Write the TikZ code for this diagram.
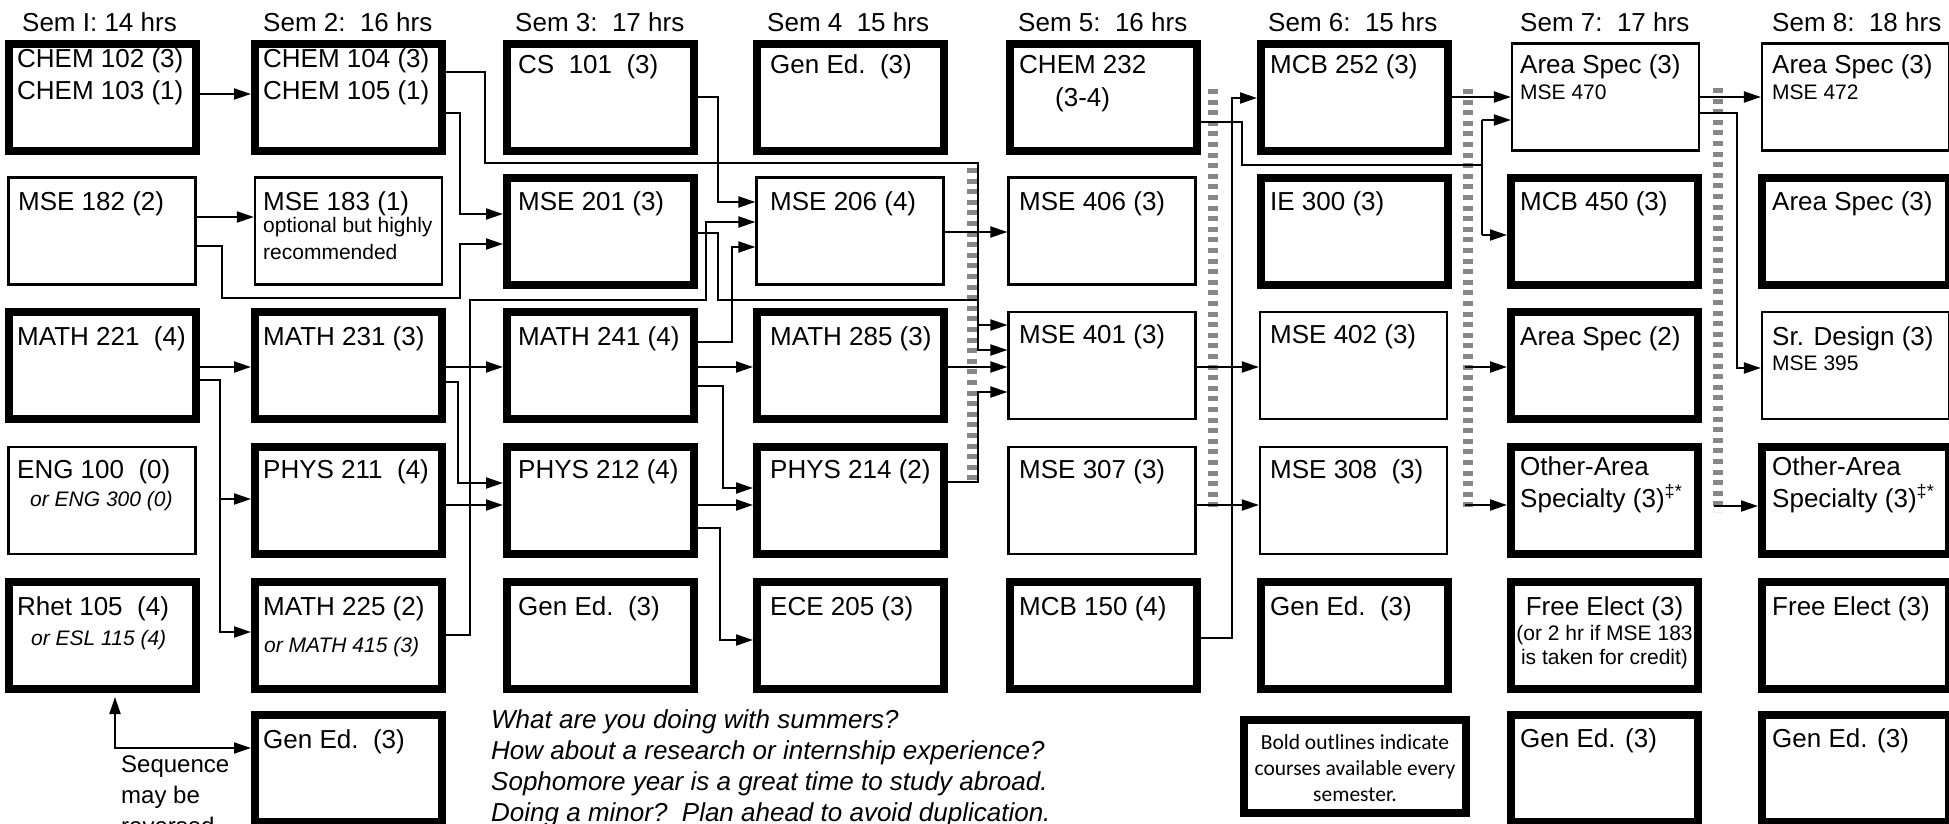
\documentclass[tikz,border=0pt]{standalone}
\usepackage{fontspec}
\setmainfont{Liberation Sans}
\newfontfamily\calib{Carlito}
\usetikzlibrary{arrows.meta}
\newcounter{tn}
\newcommand\mkbox[4]{\node[#1] (#2) at ({#3+93.5},{#4+53.5}) {};}
\newcommand\tx[4][txt]{\stepcounter{tn}\node[#1] (t\arabic{tn}) at (#2,#3) {#4};}
\begin{document}
\begin{tikzpicture}[x=1pt,y=-1pt,
  bold/.style={draw, line width=8pt, minimum width=187pt, minimum height=107pt, inner sep=0pt},
  thin/.style={draw, line width=2.2pt, minimum width=187pt, minimum height=107pt, inner sep=0pt},
  txt/.style={anchor=base west, inner sep=0pt, font=\fontsize{26}{31}\selectfont},
  sml/.style={anchor=base west, inner sep=0pt, font=\fontsize{21}{26}\selectfont},
  ism/.style={sml, font=\fontsize{21}{26}\selectfont\itshape},
  ctr/.style={txt, anchor=base},
  csm/.style={sml, anchor=base},
  note/.style={anchor=base, inner sep=0pt, font=\fontsize{21.5}{26}\calib},
  itl/.style={anchor=base west, inner sep=0pt, font=\fontsize{26}{31}\selectfont\itshape},
  seq/.style={anchor=base west, inner sep=0pt, font=\fontsize{24}{31}\selectfont},
  con/.style={line width=2pt},
  arr/.style={con, -{Triangle[length=17pt,width=11pt]}},
  gdash/.style={draw=black!47, line width=10pt, dash pattern=on 5pt off 5.6pt}]
\useasboundingbox (0,0) rectangle (1949,824);
\fill[white] (0,0) rectangle (1949,824);
% headers
\tx{22}{32}{Sem I: 14 hrs}
\tx{263}{32}{Sem 2:~~16 hrs}
\tx{515}{32}{Sem 3:~~17 hrs}
\tx{767}{32}{Sem 4~~15 hrs}
\tx{1018}{32}{Sem 5:~~16 hrs}
\tx{1268}{32}{Sem 6:~~15 hrs}
\tx{1520}{32}{Sem 7:~~17 hrs}
\tx{1772}{32}{Sem 8:~~18 hrs}
% dashed separators
\draw[gdash] (972,168) -- (972,480);
\draw[gdash] (1212.5,89) -- (1212.5,512);
\draw[gdash] (1468,89) -- (1468,512);
\draw[gdash] (1718,88) -- (1718,512);
% row 1
\mkbox{bold}{a1}{8.5}{44}
\mkbox{bold}{b1}{255}{44}
\mkbox{bold}{c1}{507}{44}
\mkbox{bold}{d1}{757}{44}
\mkbox{bold}{e1}{1009.5}{44}
\mkbox{bold}{f1}{1261}{44}
\mkbox{thin}{g1}{1512}{43.5}
\mkbox{thin}{h1}{1762}{43.5}
% row 2
\mkbox{thin}{a2}{8.5}{177.5}
\mkbox{thin}{b2}{255}{177.5}
\mkbox{bold}{c2}{507}{177.5}
\mkbox{thin}{d2}{756.5}{177.5}
\mkbox{thin}{e2}{1008.5}{177.5}
\mkbox{bold}{f2}{1261}{177.5}
\mkbox{bold}{g2}{1511}{177.5}
\mkbox{bold}{h2}{1762}{177.5}
% row 3
\mkbox{bold}{a3}{8.5}{312}
\mkbox{bold}{b3}{255}{312}
\mkbox{bold}{c3}{507}{312}
\mkbox{bold}{d3}{757}{312}
\mkbox{thin}{e3}{1008.5}{312}
\mkbox{thin}{f3}{1260}{312}
\mkbox{bold}{g3}{1511}{312}
\mkbox{thin}{h3}{1762}{312}
% row 4
\mkbox{thin}{a4}{8.5}{447}
\mkbox{bold}{b4}{255}{447}
\mkbox{bold}{c4}{507}{447}
\mkbox{bold}{d4}{757}{447}
\mkbox{thin}{e4}{1008.5}{447}
\mkbox{thin}{f4}{1260}{447}
\mkbox{bold}{g4}{1511}{447}
\mkbox{bold}{h4}{1762}{447}
% row 5
\mkbox{bold}{a5}{8.5}{582}
\mkbox{bold}{b5}{255}{582}
\mkbox{bold}{c5}{507}{582}
\mkbox{bold}{d5}{757}{582}
\mkbox{bold}{e5}{1009.5}{582}
\mkbox{bold}{f5}{1261}{582}
\mkbox{bold}{g5}{1511}{582}
\mkbox{bold}{h5}{1762}{582}
% row 6
\mkbox{bold}{b6}{255}{715}
\mkbox{bold}{g6}{1511}{715}
\mkbox{bold}{h6}{1762}{715}
\node[draw, line width=7.5pt, minimum width=222pt, minimum height=93pt, inner sep=0pt] (nb) at (1355,766.5) {};
% texts row 1
\tx{17}{68}{CHEM 102 (3)}
\tx{17}{100}{CHEM 103 (1)}
\tx{263}{68}{CHEM 104 (3)}
\tx{263}{100}{CHEM 105 (1)}
\tx{518}{74}{CS~~101~~(3)}
\tx{770}{74}{Gen Ed.~~(3)}
\tx{1019}{74}{CHEM 232}
\tx{1055}{107}{(3-4)}
\tx{1270}{74}{MCB 252 (3)}
\tx{1520}{74}{Area Spec (3)}
\tx[sml]{1520}{100}{MSE 470}
\tx{1772}{74}{Area Spec (3)}
\tx[sml]{1772}{100}{MSE 472}
% row 2
\tx{18}{210}{MSE 182 (2)}
\tx{263}{210}{MSE 183 (1)}
\tx[sml]{263}{232}{optional but highly}
\tx[sml]{263}{259}{recommended}
\tx{518}{210}{MSE 201 (3)}
\tx{770}{210}{MSE 206 (4)}
\tx{1019}{210}{MSE 406 (3)}
\tx{1270}{210}{IE 300 (3)}
\tx{1520}{210}{MCB 450 (3)}
\tx{1772}{210}{Area Spec (3)}
% row 3
\tx{17}{345}{MATH 221~~(4)}
\tx{263}{345}{MATH 231 (3)}
\tx{518}{345}{MATH 241 (4)}
\tx{770}{345}{MATH 285 (3)}
\tx{1019}{343}{MSE 401 (3)}
\tx{1270}{343}{MSE 402 (3)}
\tx{1520}{345}{Area Spec (2)}
\tx{1772}{345}{Sr. Design (3)}
\tx[sml]{1772}{370}{MSE 395}
% row 4
\tx{17}{478}{ENG 100~~(0)}
\tx[ism]{30}{506}{or ENG 300 (0)}
\tx{263}{478}{PHYS 211~~(4)}
\tx{518}{478}{PHYS 212 (4)}
\tx{770}{478}{PHYS 214 (2)}
\tx{1019}{478}{MSE 307 (3)}
\tx{1270}{478}{MSE 308~~(3)}
\tx{1520}{475}{Other-Area}
\tx{1520}{507}{Specialty (3)\textsuperscript{‡*}}
\tx{1772}{475}{Other-Area}
\tx{1772}{507}{Specialty (3)\textsuperscript{‡*}}
% row 5
\tx{17}{615}{Rhet 105~~(4)}
\tx[ism]{31}{645}{or ESL 115 (4)}
\tx{263}{615}{MATH 225 (2)}
\tx[ism]{264}{652}{or MATH 415 (3)}
\tx{518}{615}{Gen Ed.~~(3)}
\tx{770}{615}{ECE 205 (3)}
\tx{1019}{615}{MCB 150 (4)}
\tx{1270}{615}{Gen Ed.~~(3)}
\tx[ctr]{1604.5}{615}{Free Elect (3)}
\tx[csm]{1604.5}{640}{(or 2 hr if MSE 183}
\tx[csm]{1604.5}{664}{is taken for credit)}
\tx{1772}{615}{Free Elect (3)}
% row 6
\tx{263}{748}{Gen Ed.~~(3)}
\tx{1520}{747}{Gen Ed. (3)}
\tx{1772}{747}{Gen Ed. (3)}
\tx[note]{1355}{749}{Bold outlines indicate}
\tx[note]{1355}{775}{courses available every}
\tx[note]{1355}{801}{semester.}
\tx[itl]{491}{728}{What are you doing with summers?}
\tx[itl]{491}{759}{How about a research or internship experience?}
\tx[itl]{491}{790}{Sophomore year is a great time to study abroad.}
\tx[itl]{491}{821}{Doing a minor?~~Plan ahead to avoid duplication.}
\tx[seq]{121}{772}{Sequence}
\tx[seq]{121}{803}{may be}
\tx[seq]{121}{834}{reversed}
% connectors
\draw[arr] (a1.east|-0,94) -- (b1.west|-0,94);
\draw[arr] (a2.east|-0,217) -- (b2.west|-0,217);
\draw[arr] (a2.east|-0,246) -- (222,246) -- (222,298) -- (460,298) -- (460,244) -- (c2.west|-0,244);
\draw[arr] (b1.east|-0,113) -- (460,113) -- (460,214) -- (c2.west|-0,214);
\draw[arr] (b1.east|-0,72) -- (485,72) -- (485,163) -- (977.5,163) -- (977.5,325) -- (e3.west|-0,325);
\draw[arr] (c1.east|-0,97) -- (718,97) -- (718,202) -- (d2.west|-0,202);
\draw[arr] (c2.east|-0,233) -- (718,233) -- (718,300) -- (977.5,300) -- (977.5,350) -- (e3.west|-0,350);
\draw[arr] (b5.east|-0,635) -- (470,635) -- (470,300) -- (706,300) -- (706,222) -- (d2.west|-0,222);
\draw[arr] (c3.east|-0,342) -- (732,342) -- (732,247) -- (d2.west|-0,247);
\draw[arr] (c3.east|-0,367) -- (d3.west|-0,367);
\draw[arr] (c3.east|-0,386) -- (723,386) -- (723,488) -- (d4.west|-0,488);
\draw[arr] (c4.east|-0,505) -- (d4.west|-0,505);
\draw[arr] (c4.east|-0,528) -- (720,528) -- (720,640) -- (d5.west|-0,640);
\draw[arr] (b3.east|-0,367) -- (c3.west|-0,367);
\draw[arr] (b3.east|-0,382) -- (458,382) -- (458,483) -- (c4.west|-0,483);
\draw[arr] (b4.east|-0,505) -- (c4.west|-0,505);
\draw[arr] (a3.east|-0,367) -- (b3.west|-0,367);
\draw[arr] (a3.east|-0,380) -- (220,380) -- (220,632) -- (b5.west|-0,632);
\draw[arr] (220,499) -- (b4.west|-0,499);
\draw[arr] (d2.east|-0,232) -- (e2.west|-0,232);
\draw[arr] (d3.east|-0,367) -- (e3.west|-0,367);
\draw[arr] (d4.east|-0,482) -- (977.5,482) -- (977.5,392) -- (e3.west|-0,392);
\draw[con] (e1.east|-0,122) -- (1242,122) -- (1242,165) -- (1482,165);
\draw[con] (1482,120) -- (1482,235);
\draw[arr] (1482,120) -- (g1.west|-0,120);
\draw[arr] (1482,235) -- (g2.west|-0,235);
\draw[arr] (e5.east|-0,638) -- (1232,638) -- (1232,98) -- (f1.west|-0,98);
\draw[arr] (f1.east|-0,97) -- (g1.west|-0,97);
\draw[arr] (e3.east|-0,367) -- (f3.west|-0,367);
\draw[arr] (e4.east|-0,505) -- (f4.west|-0,505);
\coordinate (d3a) at (1465,367);
\coordinate (d3b) at (1465,505);
\coordinate (d4a) at (1714,506);
\draw[arr] (d3a) -- (g3.west|-d3a);
\draw[arr] (d3b) -- (g4.west|-d3b);
\draw[arr] (g1.east|-0,97) -- (h1.west|-0,97);
\draw[arr] (g1.east|-0,113) -- (1737,113) -- (1737,368) -- (h3.west|-0,368);
\draw[arr] (d4a) -- (h4.west|-d4a);
\coordinate (seqtip) at (115,697);
\draw[con, {Triangle[length=17pt,width=11pt]}-{Triangle[length=17pt,width=11pt]}] (seqtip) -- (115,748) -- (b6.west|-0,748);
\end{tikzpicture}
\end{document}
